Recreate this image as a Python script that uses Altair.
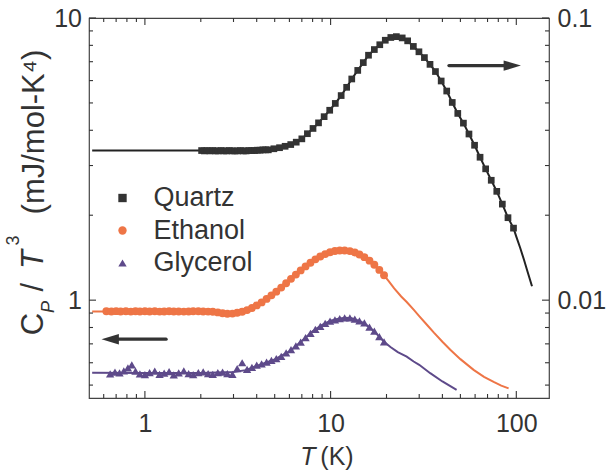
import altair as alt
import pandas as pd

# ------------------------------------------------------------------ data
series_names = ["Quartz", "Ethanol", "Glycerol"]
series_colors = ["#333333", "#EE7546", "#5E4A8A"]
series_shapes = ["square", "circle", "triangle-up"]

# Quartz (right axis, mJ/mol-K^4)
quartz_T = [2.02, 2.09, 2.16, 2.24, 2.32, 2.40, 2.48, 2.57, 2.66, 2.75, 2.85, 2.95,
            3.05, 3.16, 3.27, 3.39, 3.51, 3.63, 3.76, 3.89, 4.03, 4.17, 4.32, 4.47,
            4.62, 4.95, 5.31, 5.69, 6.10, 6.53, 7.00, 7.50, 8.04, 8.61, 9.23, 9.89,
            10.6, 11.4, 12.2, 13.0, 14.0, 15.0, 16.0, 17.2, 18.4, 19.7, 21.1, 22.6,
            24.3, 26.0, 27.9, 29.9, 32.0, 34.3, 36.7, 39.4, 42.2, 45.2, 48.4, 51.9,
            55.6, 59.6, 63.8, 68.4, 73.3, 78.5, 84.1, 90.2, 96.6]
quartz_C = [0.0339, 0.0338, 0.0339, 0.0338, 0.0339, 0.0338, 0.0338, 0.0339, 0.0338,
            0.0338, 0.0339, 0.0338, 0.0338, 0.0338, 0.0339, 0.0338, 0.0338, 0.0339,
            0.0339, 0.0339, 0.0340, 0.0340, 0.0341, 0.0341,
            0.0341, 0.0344, 0.0347, 0.0351, 0.0356, 0.0363, 0.0373, 0.0389, 0.0406,
            0.0425, 0.0447, 0.0471, 0.0498, 0.0531, 0.0568, 0.0608, 0.0652, 0.0695,
            0.0738, 0.0773, 0.0804, 0.0834, 0.0853, 0.0859, 0.0850, 0.0830, 0.0793,
            0.0759, 0.0724, 0.0685, 0.0646, 0.0598, 0.0551, 0.0502, 0.0459, 0.0424,
            0.0388, 0.0354, 0.0321, 0.0292, 0.0266, 0.0243, 0.0219, 0.0196, 0.0180]
quartz_head_T = [0.52, 0.8, 1.2, 1.6]
quartz_head_C = [0.0339, 0.0339, 0.0339, 0.0339]
quartz_tail_T = [100, 105, 110, 115, 121.5]
quartz_tail_C = [0.0168, 0.0153, 0.0139, 0.0126, 0.0112]

# Ethanol (left axis)
ethanol_T = [0.62, 0.66, 0.70, 0.74, 0.79, 0.84, 0.89, 0.94, 1.0, 1.06, 1.13, 1.2,
             1.27, 1.35, 1.43, 1.52, 1.62, 1.72, 1.82, 1.94, 2.06, 2.19, 2.32, 2.47,
             2.62, 2.78, 2.96, 3.14, 3.34, 3.55, 3.77, 4.0, 4.25, 4.52, 4.8, 5.1,
             5.42, 5.76, 6.12, 6.5, 6.9, 7.33, 7.79, 8.28, 8.8, 9.35, 9.93, 10.55,
             11.2, 11.9, 12.7, 13.5, 14.3, 15.2, 16.2, 17.2, 18.3, 19.4]
ethanol_C = [0.913, 0.912, 0.914, 0.912, 0.913, 0.911, 0.913, 0.912, 0.913, 0.912,
             0.913, 0.911, 0.912, 0.913, 0.912, 0.912, 0.911, 0.912, 0.913, 0.913,
             0.912, 0.911, 0.910, 0.905, 0.899, 0.895, 0.896, 0.902, 0.910, 0.922,
             0.938, 0.958, 0.982, 1.010, 1.040, 1.072, 1.108, 1.148, 1.190, 1.232,
             1.275, 1.317, 1.357, 1.395, 1.428, 1.456, 1.478, 1.493, 1.500, 1.500,
             1.492, 1.475, 1.452, 1.420, 1.380, 1.335, 1.280, 1.225]
ethanol_line_T = [0.52, 1, 2, 2.5, 2.8, 3.1, 3.5, 4, 4.5, 5, 5.5, 6, 7, 8, 9, 10, 11,
                  12, 13, 14, 15, 16, 17, 18, 19.4, 20.5, 22, 24, 25.7, 28, 30, 33,
                  36, 40, 44.1, 50, 58.9, 67, 75.5, 83, 90.9]
ethanol_line_C = [0.912, 0.912, 0.912, 0.904, 0.896, 0.900, 0.918, 0.958, 1.008,
                  1.062, 1.118, 1.175, 1.285, 1.375, 1.440, 1.481, 1.500, 1.498,
                  1.485, 1.458, 1.426, 1.388, 1.343, 1.295, 1.225, 1.17, 1.10, 1.03,
                  0.985, 0.925, 0.878, 0.818, 0.767, 0.712, 0.667, 0.618, 0.566,
                  0.535, 0.513, 0.498, 0.487]

# Glycerol (left axis)
glycerol_T = [0.65, 0.69, 0.73, 0.77, 0.81, 0.85, 0.89, 0.94, 1.0, 1.06, 1.13, 1.2,
              1.27, 1.35, 1.43, 1.52, 1.62, 1.72, 1.82, 1.94, 2.06, 2.19, 2.32, 2.47,
              2.62, 2.78, 2.96, 3.14, 3.34, 3.55, 3.77, 4.0, 4.25, 4.52, 4.8, 5.1,
              5.42, 5.76, 6.12, 6.5, 6.9, 7.33, 7.79, 8.28, 8.8, 9.35, 9.93, 10.55,
              11.2, 11.9, 12.7, 13.5, 14.3, 15.2, 16.2, 17.2, 18.3, 19.4]
glycerol_C = [0.548, 0.556, 0.552, 0.562, 0.575, 0.590, 0.560, 0.548, 0.545, 0.553,
              0.560, 0.546, 0.551, 0.558, 0.544, 0.552, 0.562, 0.549, 0.545, 0.553,
              0.557, 0.549, 0.546, 0.553, 0.556, 0.549, 0.546, 0.572, 0.600, 0.568,
              0.578, 0.588, 0.595, 0.603, 0.612, 0.620, 0.632, 0.650, 0.668, 0.688,
              0.710, 0.737, 0.763, 0.788, 0.808, 0.827, 0.843, 0.852, 0.860, 0.866,
              0.866, 0.857, 0.845, 0.830, 0.802, 0.776, 0.742, 0.712]
glycerol_line_T = [0.52, 1, 2, 3, 3.5, 4, 5, 6, 7, 8, 9, 10, 11, 12, 13, 14, 15, 16,
                   17, 18, 19.4, 21, 23, 25.7, 28, 30, 34.4, 40, 47.7]
glycerol_line_C = [0.553, 0.552, 0.552, 0.556, 0.565, 0.585, 0.617, 0.658, 0.717,
                   0.775, 0.818, 0.845, 0.860, 0.866, 0.862, 0.848, 0.830, 0.806,
                   0.779, 0.750, 0.712, 0.682, 0.654, 0.631, 0.606, 0.590, 0.551,
                   0.515, 0.481]

# arrows (tail, shaft end, tip, level)
arrow_left = {"tail": [1.30], "end": [0.656], "tip": [0.584], "level": [0.727]}
arrow_right = {"tail": [43.4], "end": [94.7], "tip": [105.9], "level": [0.0678]}

# axes
x_domain = [0.5, 150]
yl_domain = [0.45, 10]
yr_domain = [0.0045, 0.1]
x_major = [1, 10, 100]
x_minor = [0.6, 0.7, 0.8, 0.9, 2, 3, 4, 5, 6, 7, 8, 9, 20, 30, 40, 50, 60, 70, 80, 90]
yl_major = [1, 10]
yl_minor = [0.5, 0.6, 0.7, 0.8, 0.9, 2, 3, 4, 5, 6, 7, 8, 9]
yr_major = [0.01, 0.1]
yr_minor = [0.005, 0.006, 0.007, 0.008, 0.009, 0.02, 0.03, 0.04, 0.05, 0.06, 0.07,
            0.08, 0.09]

# ------------------------------------------------------------------ style
FONT = "Liberation Sans"
TXT = "#333333"
DARK = "#333333"
TICK = "#333333"
W, H = 460, 380
MAJ, MIN = 7, 4

xs = alt.Scale(type="log", domain=x_domain, nice=False)
ysl = alt.Scale(type="log", domain=yl_domain, nice=False)
ysr = alt.Scale(type="log", domain=yr_domain, nice=False)


def title_kw(text, tx, ty, size, italic=False, angle=0):
    return dict(title=text, titleFont=FONT, titleFontSize=size,
                titleFontStyle="italic" if italic else "normal",
                titleFontWeight="normal", titleColor=TXT, titleX=tx, titleY=ty,
                titleAlign="center", titleBaseline="alphabetic", titleAngle=angle)


def title_axis(orient, offset, values, tkw):
    # axis that only carries a piece of the axis title
    return alt.Axis(orient=orient, offset=offset, values=values, ticks=False,
                    tickSize=0, labels=False, domain=False, grid=False, **tkw)


x_label_axis = alt.Axis(orient="bottom", values=x_major, format="~g", ticks=False,
                        tickSize=0, domain=False, grid=False, labelFont=FONT,
                        labelFontSize=25, labelColor=TXT, labelPadding=13,
                        labelFlush=False,
                        **title_kw("T", 218.5, 66, 25, italic=True))
yl_label_axis = alt.Axis(orient="left", values=yl_major, format="~g", ticks=False,
                         tickSize=0, domain=False, grid=False, labelFont=FONT,
                         labelFontSize=25, labelColor=TXT, labelPadding=7.5,
                         labelFlush=False,
                         **title_kw("C", -47, 305.5, 31, angle=270))
yr_label_axis = alt.Axis(orient="right", values=yr_major, format="~g", ticks=False,
                         tickSize=0, domain=False, grid=False, labelFont=FONT,
                         labelFontSize=25, labelColor=TXT, labelPadding=8,
                         labelFlush=False,
                         **title_kw("T", -507, 241, 31, italic=True, angle=270))

# ------------------------------------------------------------------ frames
eth_line_df = pd.DataFrame({"T": ethanol_line_T, "C": ethanol_line_C})
gly_line_df = pd.DataFrame({"T": glycerol_line_T, "C": glycerol_line_C})
q_line_df = pd.DataFrame({"T": quartz_head_T + quartz_T + quartz_tail_T,
                          "C": quartz_head_C + quartz_C + quartz_tail_C})
eth_df = pd.DataFrame({"T": ethanol_T, "C": ethanol_C, "series": series_names[1]})
gly_df = pd.DataFrame({"T": glycerol_T, "C": glycerol_C, "series": series_names[2]})
q_df = pd.DataFrame({"T": quartz_T, "C": quartz_C, "series": series_names[0]})
al_df = pd.DataFrame(arrow_left)
ar_df = pd.DataFrame(arrow_right)

legend = alt.Legend(title=None, orient="none", legendX=20, legendY=166.5, padding=0,
                    labelFont=FONT, labelFontSize=27, labelColor=TXT, symbolSize=70,
                    symbolStrokeWidth=0, labelOffset=17.5, rowPadding=4.5)
color_enc = alt.Color("series:N", scale=alt.Scale(domain=series_names,
                                                   range=series_colors), legend=legend)
shape_enc = alt.Shape("series:N", scale=alt.Scale(domain=series_names,
                                                   range=series_shapes), legend=legend)

# ------------------------------------------------------------------ inward ticks
# drawn as stroked symbols anchored on the frame (path starts at the anchor)
lo, hi = yl_domain
xl, xh = x_domain
UP, DOWN, RIGHT, LEFT = "M0,0L0,-2", "M0,0L0,2", "M0,0L2,0", "M0,0L-2,0"


def edge_ticks(xv, yv, yscale, path, length):
    df = pd.DataFrame({"tx": xv, "ty": yv})
    return alt.Chart(df).mark_point(shape=path, filled=False, size=length ** 2,
                                    color=TICK, strokeWidth=1.1, opacity=1).encode(
        x=alt.X("tx:Q", scale=xs, axis=None),
        y=alt.Y("ty:Q", scale=yscale, axis=None))


tick_layers = [
    edge_ticks(x_major, [lo] * len(x_major), ysl, UP, MAJ),
    edge_ticks(x_minor, [lo] * len(x_minor), ysl, UP, MIN),
    edge_ticks(x_major, [hi] * len(x_major), ysl, DOWN, MAJ),
    edge_ticks(x_minor, [hi] * len(x_minor), ysl, DOWN, MIN),
    edge_ticks([xl] * len(yl_major), yl_major, ysl, RIGHT, MAJ),
    edge_ticks([xl] * len(yl_minor), yl_minor, ysl, RIGHT, MIN),
    edge_ticks([xh] * len(yr_major), yr_major, ysr, LEFT, MAJ),
    edge_ticks([xh] * len(yr_minor), yr_minor, ysr, LEFT, MIN),
]

# ------------------------------------------------------------------ data layers
L1 = alt.Chart(eth_line_df).mark_line(color=series_colors[1], strokeWidth=2).encode(
    x=alt.X("T:Q", scale=xs, axis=x_label_axis),
    y=alt.Y("C:Q", scale=ysl, axis=yl_label_axis))

L2 = alt.Chart(gly_line_df).mark_line(color=series_colors[2], strokeWidth=2).encode(
    x=alt.X("T:Q", scale=xs, axis=title_axis("top", -H, x_major,
                                              title_kw("(K)", 247.5, 66, 25))),
    y=alt.Y("C:Q", scale=ysl, axis=title_axis("right", -W, yl_major,
                                               title_kw("P", -35.7, 288.5, 18,
                                                        italic=True, angle=270))))

L3 = alt.Chart(eth_df).mark_point(filled=True, size=62, opacity=1).encode(
    x=alt.X("T:Q", scale=xs, axis=None),
    y=alt.Y("C:Q", scale=ysl, axis=title_axis("right", -W, yl_minor,
                                               title_kw("/", -47, 268.7, 31,
                                                        angle=270))),
    color=color_enc, shape=shape_enc)

L4 = alt.Chart(gly_df).mark_point(filled=True, size=70, opacity=1).encode(
    x=alt.X("T:Q", scale=xs, axis=None),
    y=alt.Y("C:Q", scale=ysl, axis=None),
    color=color_enc, shape=shape_enc)

L5 = alt.Chart(al_df).mark_rule(color=DARK, strokeWidth=3.3, strokeCap="round").encode(
    x=alt.X("tail:Q", scale=xs, axis=None),
    x2="end:Q",
    y=alt.Y("level:Q", scale=ysl, axis=None))

L6 = alt.Chart(al_df).mark_point(shape="M0,0L2,-0.6L2,0.6Z", filled=True, size=300,
                                 color=DARK, opacity=1).encode(
    x=alt.X("tip:Q", scale=xs, axis=None),
    y=alt.Y("level:Q", scale=ysl, axis=None))

L7 = alt.Chart(q_line_df).mark_line(color="#222222", strokeWidth=2).encode(
    x=alt.X("T:Q", scale=xs, axis=None),
    y=alt.Y("C:Q", scale=ysr, axis=yr_label_axis))

L8 = alt.Chart(q_df).mark_point(filled=True, size=45, opacity=1).encode(
    x=alt.X("T:Q", scale=xs, axis=None),
    y=alt.Y("C:Q", scale=ysr, axis=title_axis("left", -W, yr_major,
                                               title_kw("3", -530.7, 222, 18,
                                                        angle=270))),
    color=color_enc, shape=shape_enc)

L9 = alt.Chart(ar_df).mark_rule(color=DARK, strokeWidth=3.3, strokeCap="round").encode(
    x=alt.X("tail:Q", scale=xs, axis=None),
    x2="end:Q",
    y=alt.Y("level:Q", scale=ysr, axis=title_axis("left", -W, yr_minor,
                                                   title_kw("(mJ/mol-K\u2074)", -506,
                                                            113.5, 31, angle=270))))

L10 = alt.Chart(ar_df).mark_point(shape="M0,0L-2,-0.6L-2,0.6Z", filled=True, size=300,
                                  color=DARK, opacity=1).encode(
    x=alt.X("tip:Q", scale=xs, axis=None),
    y=alt.Y("level:Q", scale=ysr, axis=None))

chart = alt.layer(L1, L2, L3, L4, L5, L6, L7, L8, L9, L10, *tick_layers).resolve_scale(
    y="independent").resolve_axis(x="independent", y="independent").properties(
    width=W, height=H, autosize=alt.AutoSizeParams(type="none"),
    padding={"left": 89, "top": 18, "right": 59, "bottom": 73},
    background="white").configure_view(stroke="#444444", strokeWidth=1.2)

chart.save("out.html", embed_options={"renderer": "svg", "actions": False})
